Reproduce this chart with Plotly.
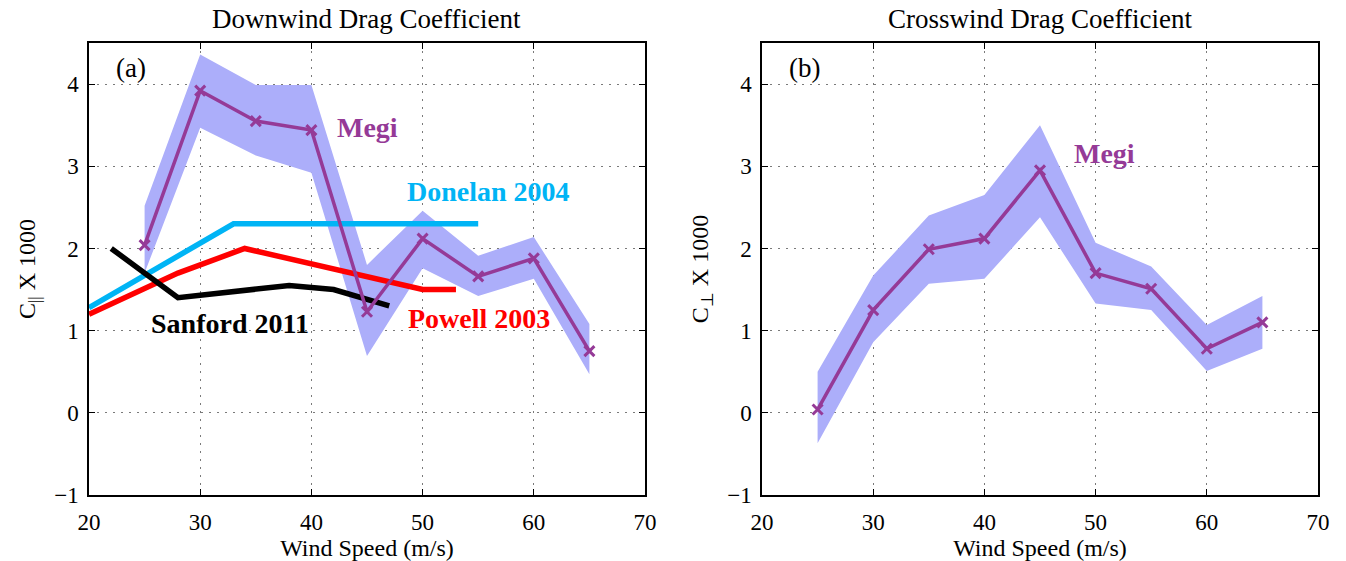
import plotly.graph_objects as go

# ---------------- data ----------------
wind = [25, 30, 35, 40, 45, 50, 55, 60, 65]

megi_down = [2.04, 3.92, 3.55, 3.44, 1.23, 2.12, 1.66, 1.88, 0.75]
megi_down_hi = [2.52, 4.36, 3.99, 3.99, 1.80, 2.46, 1.91, 2.14, 1.08]
megi_down_lo = [1.70, 3.47, 3.13, 2.92, 0.69, 1.76, 1.42, 1.63, 0.47]

megi_cross = [0.04, 1.25, 1.99, 2.12, 2.95, 1.70, 1.51, 0.78, 1.10]
megi_cross_hi = [0.50, 1.67, 2.40, 2.65, 3.50, 2.07, 1.78, 1.07, 1.42]
megi_cross_lo = [-0.37, 0.86, 1.57, 1.63, 2.38, 1.33, 1.25, 0.51, 0.78]

donelan_x = [20, 33, 55]
donelan_y = [1.28, 2.30, 2.30]

powell_x = [20, 28, 34, 50, 53]
powell_y = [1.20, 1.70, 2.00, 1.50, 1.50]

sanford_x = [22, 28, 38, 42, 47]
sanford_y = [2.00, 1.40, 1.55, 1.50, 1.30]

x_ticks = [20, 30, 40, 50, 60, 70]
y_ticks = [-1, 0, 1, 2, 3, 4]

# ---------------- style ----------------
PURPLE = "#953a97"
BAND = "rgba(172,174,250,1)"
CYAN = "#00b4f5"
RED = "#ff0000"
BLACK = "#000000"
FONT = "Liberation Serif"
TICK_SIZE = 23
LABEL_SIZE = 24
ANN_SIZE = 28

fig = go.Figure()


def add_band(x, lo, hi, xa, ya):
    fig.add_trace(go.Scatter(x=x + x[::-1], y=hi + lo[::-1], fill="toself",
                             fillcolor=BAND, line=dict(width=0),
                             mode="lines", hoverinfo="skip", showlegend=False,
                             xaxis=xa, yaxis=ya))


# panel (a)
add_band(wind, megi_down_lo, megi_down_hi, "x", "y")
fig.add_trace(go.Scatter(x=donelan_x, y=donelan_y, mode="lines",
                         line=dict(color=CYAN, width=5.5), showlegend=False,
                         xaxis="x", yaxis="y"))
fig.add_trace(go.Scatter(x=powell_x, y=powell_y, mode="lines",
                         line=dict(color=RED, width=5.5), showlegend=False,
                         xaxis="x", yaxis="y"))
fig.add_trace(go.Scatter(x=sanford_x, y=sanford_y, mode="lines",
                         line=dict(color=BLACK, width=5.5), showlegend=False,
                         xaxis="x", yaxis="y"))
fig.add_trace(go.Scatter(x=wind, y=megi_down, mode="lines+markers",
                         line=dict(color=PURPLE, width=3.5),
                         marker=dict(symbol="x-thin", size=10,
                                     line=dict(color=PURPLE, width=3)),
                         showlegend=False, xaxis="x", yaxis="y"))

# panel (b)
add_band(wind, megi_cross_lo, megi_cross_hi, "x2", "y2")
fig.add_trace(go.Scatter(x=wind, y=megi_cross, mode="lines+markers",
                         line=dict(color=PURPLE, width=3.5),
                         marker=dict(symbol="x-thin", size=10,
                                     line=dict(color=PURPLE, width=3)),
                         showlegend=False, xaxis="x2", yaxis="y2"))

axis_common = dict(
    showline=True, linecolor="black", linewidth=1.5, mirror="allticks",
    ticks="inside", ticklen=6, tickcolor="black", automargin=False,
    showgrid=True, gridcolor="#7a7a7a", griddash="2px,6px", gridwidth=1,
    zeroline=False, tickfont=dict(family=FONT, size=TICK_SIZE, color="black"),
)

ydom = [1 - 495 / 561, 1 - 43 / 561]
fig.update_layout(
    width=1346, height=561,
    margin=dict(l=0, r=0, t=0, b=0),
    plot_bgcolor="white", paper_bgcolor="white",
    font=dict(family=FONT, color="black"),
    xaxis=dict(axis_common, domain=[89 / 1346, 645 / 1346], range=[20, 70],
               tickvals=x_ticks, ticklabelstandoff=6,
               title=dict(text="Wind Speed (m/s)", font=dict(family=FONT, size=LABEL_SIZE), standoff=0),
               anchor="y"),
    yaxis=dict(axis_common, domain=ydom, range=[-1, 4.5], tickvals=y_ticks,
               ticklabelstandoff=4,
               title=dict(text="C<sub>||</sub> X 1000", font=dict(family=FONT, size=LABEL_SIZE), standoff=12),
               anchor="x"),
    xaxis2=dict(axis_common, domain=[762 / 1346, 1318 / 1346], range=[20, 70],
                tickvals=x_ticks, ticklabelstandoff=6,
                title=dict(text="Wind Speed (m/s)", font=dict(family=FONT, size=LABEL_SIZE), standoff=0),
                anchor="y2"),
    yaxis2=dict(axis_common, domain=ydom, range=[-1, 4.5], tickvals=y_ticks,
                ticklabelstandoff=4,
                title=dict(text="C<sub>⊥</sub> X 1000", font=dict(family=FONT, size=LABEL_SIZE), standoff=12),
                anchor="x2"),
)

ann = [
    dict(text="Downwind Drag Coefficient", x=(89 + 645) / 2 / 1346, y=1 - 19 / 561,
         xref="paper", yref="paper", xanchor="center", yanchor="middle",
         font=dict(size=27), showarrow=False),
    dict(text="Crosswind Drag Coefficient", x=(762 + 1318) / 2 / 1346, y=1 - 19 / 561,
         xref="paper", yref="paper", xanchor="center", yanchor="middle",
         font=dict(size=27), showarrow=False),
    dict(text="(a)", x=23.8, y=4.2, xref="x", yref="y", font=dict(size=27), showarrow=False),
    dict(text="(b)", x=23.8, y=4.2, xref="x2", yref="y2", font=dict(size=27), showarrow=False),
    dict(text="<b>Megi</b>", x=45.0, y=3.47, xref="x", yref="y",
         font=dict(size=ANN_SIZE, color=PURPLE), showarrow=False),
    dict(text="<b>Donelan 2004</b>", x=55.9, y=2.69, xref="x", yref="y",
         font=dict(size=ANN_SIZE, color=CYAN), showarrow=False),
    dict(text="<b>Powell 2003</b>", x=55.1, y=1.15, xref="x", yref="y",
         font=dict(size=ANN_SIZE, color=RED), showarrow=False),
    dict(text="<b>Sanford 2011</b>", x=32.7, y=1.09, xref="x", yref="y",
         font=dict(size=ANN_SIZE, color=BLACK), showarrow=False),
    dict(text="<b>Megi</b>", x=50.8, y=3.16, xref="x2", yref="y2",
         font=dict(size=ANN_SIZE, color=PURPLE), showarrow=False),
]
for a in ann:
    a["font"]["family"] = FONT
fig.update_layout(annotations=ann)

fig.write_html("out.html")
